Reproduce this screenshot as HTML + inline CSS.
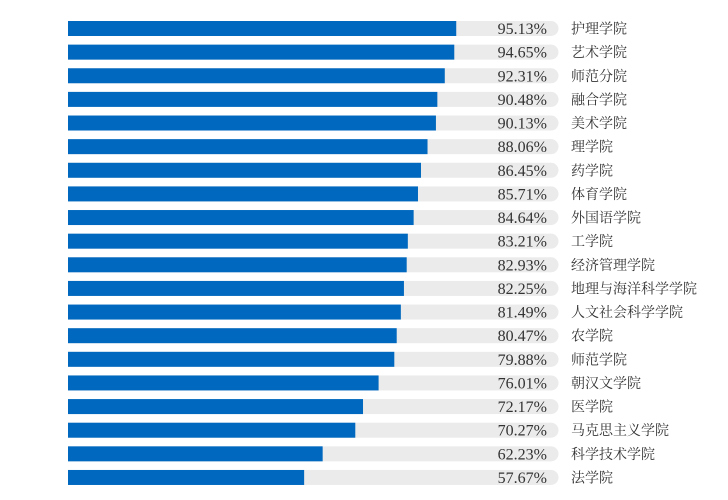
<!DOCTYPE html>
<html><head><meta charset="utf-8"><style>
body{margin:0;background:#fff;width:728px;height:495px;overflow:hidden}
</style></head><body>
<svg width="728" height="495" xmlns="http://www.w3.org/2000/svg" id="s"></svg>
<script>
var d=[["95.13","护理学院"],["94.65","艺术学院"],["92.31","师范分院"],["90.48","融合学院"],["90.13","美术学院"],["88.06","理学院"],["86.45","药学院"],["85.71","体育学院"],["84.64","外国语学院"],["83.21","工学院"],["82.93","经济管理学院"],["82.25","地理与海洋科学学院"],["81.49","人文社会科学学院"],["80.47","农学院"],["79.88","师范学院"],["76.01","朝汉文学院"],["72.17","医学院"],["70.27","马克思主义学院"],["62.23","科学技术学院"],["57.67","法学院"]];
var h='';
d.forEach(function(r,i){
 var c=28.5+i*23.63, y=c-7.5, p=parseFloat(r[0]);
 h+='<rect x="68" y="'+y+'" width="483" height="15" fill="#ebebeb"/><circle cx="551" cy="'+c+'" r="7.5" fill="#ebebeb"/>';
 h+='<rect x="68" y="'+y+'" width="'+(2+4.06*p)+'" height="15" fill="#0068be"/>';
 h+='<text x="547" y="'+(c+5.5)+'" text-anchor="end" font-family="Liberation Serif,serif" font-size="16" fill="#333">'+r[0]+'%</text>';
 h+='<text x="571" y="'+(c+5)+'" font-family="Liberation Serif,\'Noto Serif CJK SC\',serif" font-size="14" fill="#333">'+r[1]+'</text>';
});
document.getElementById('s').innerHTML=h;
</script>
</body></html>
